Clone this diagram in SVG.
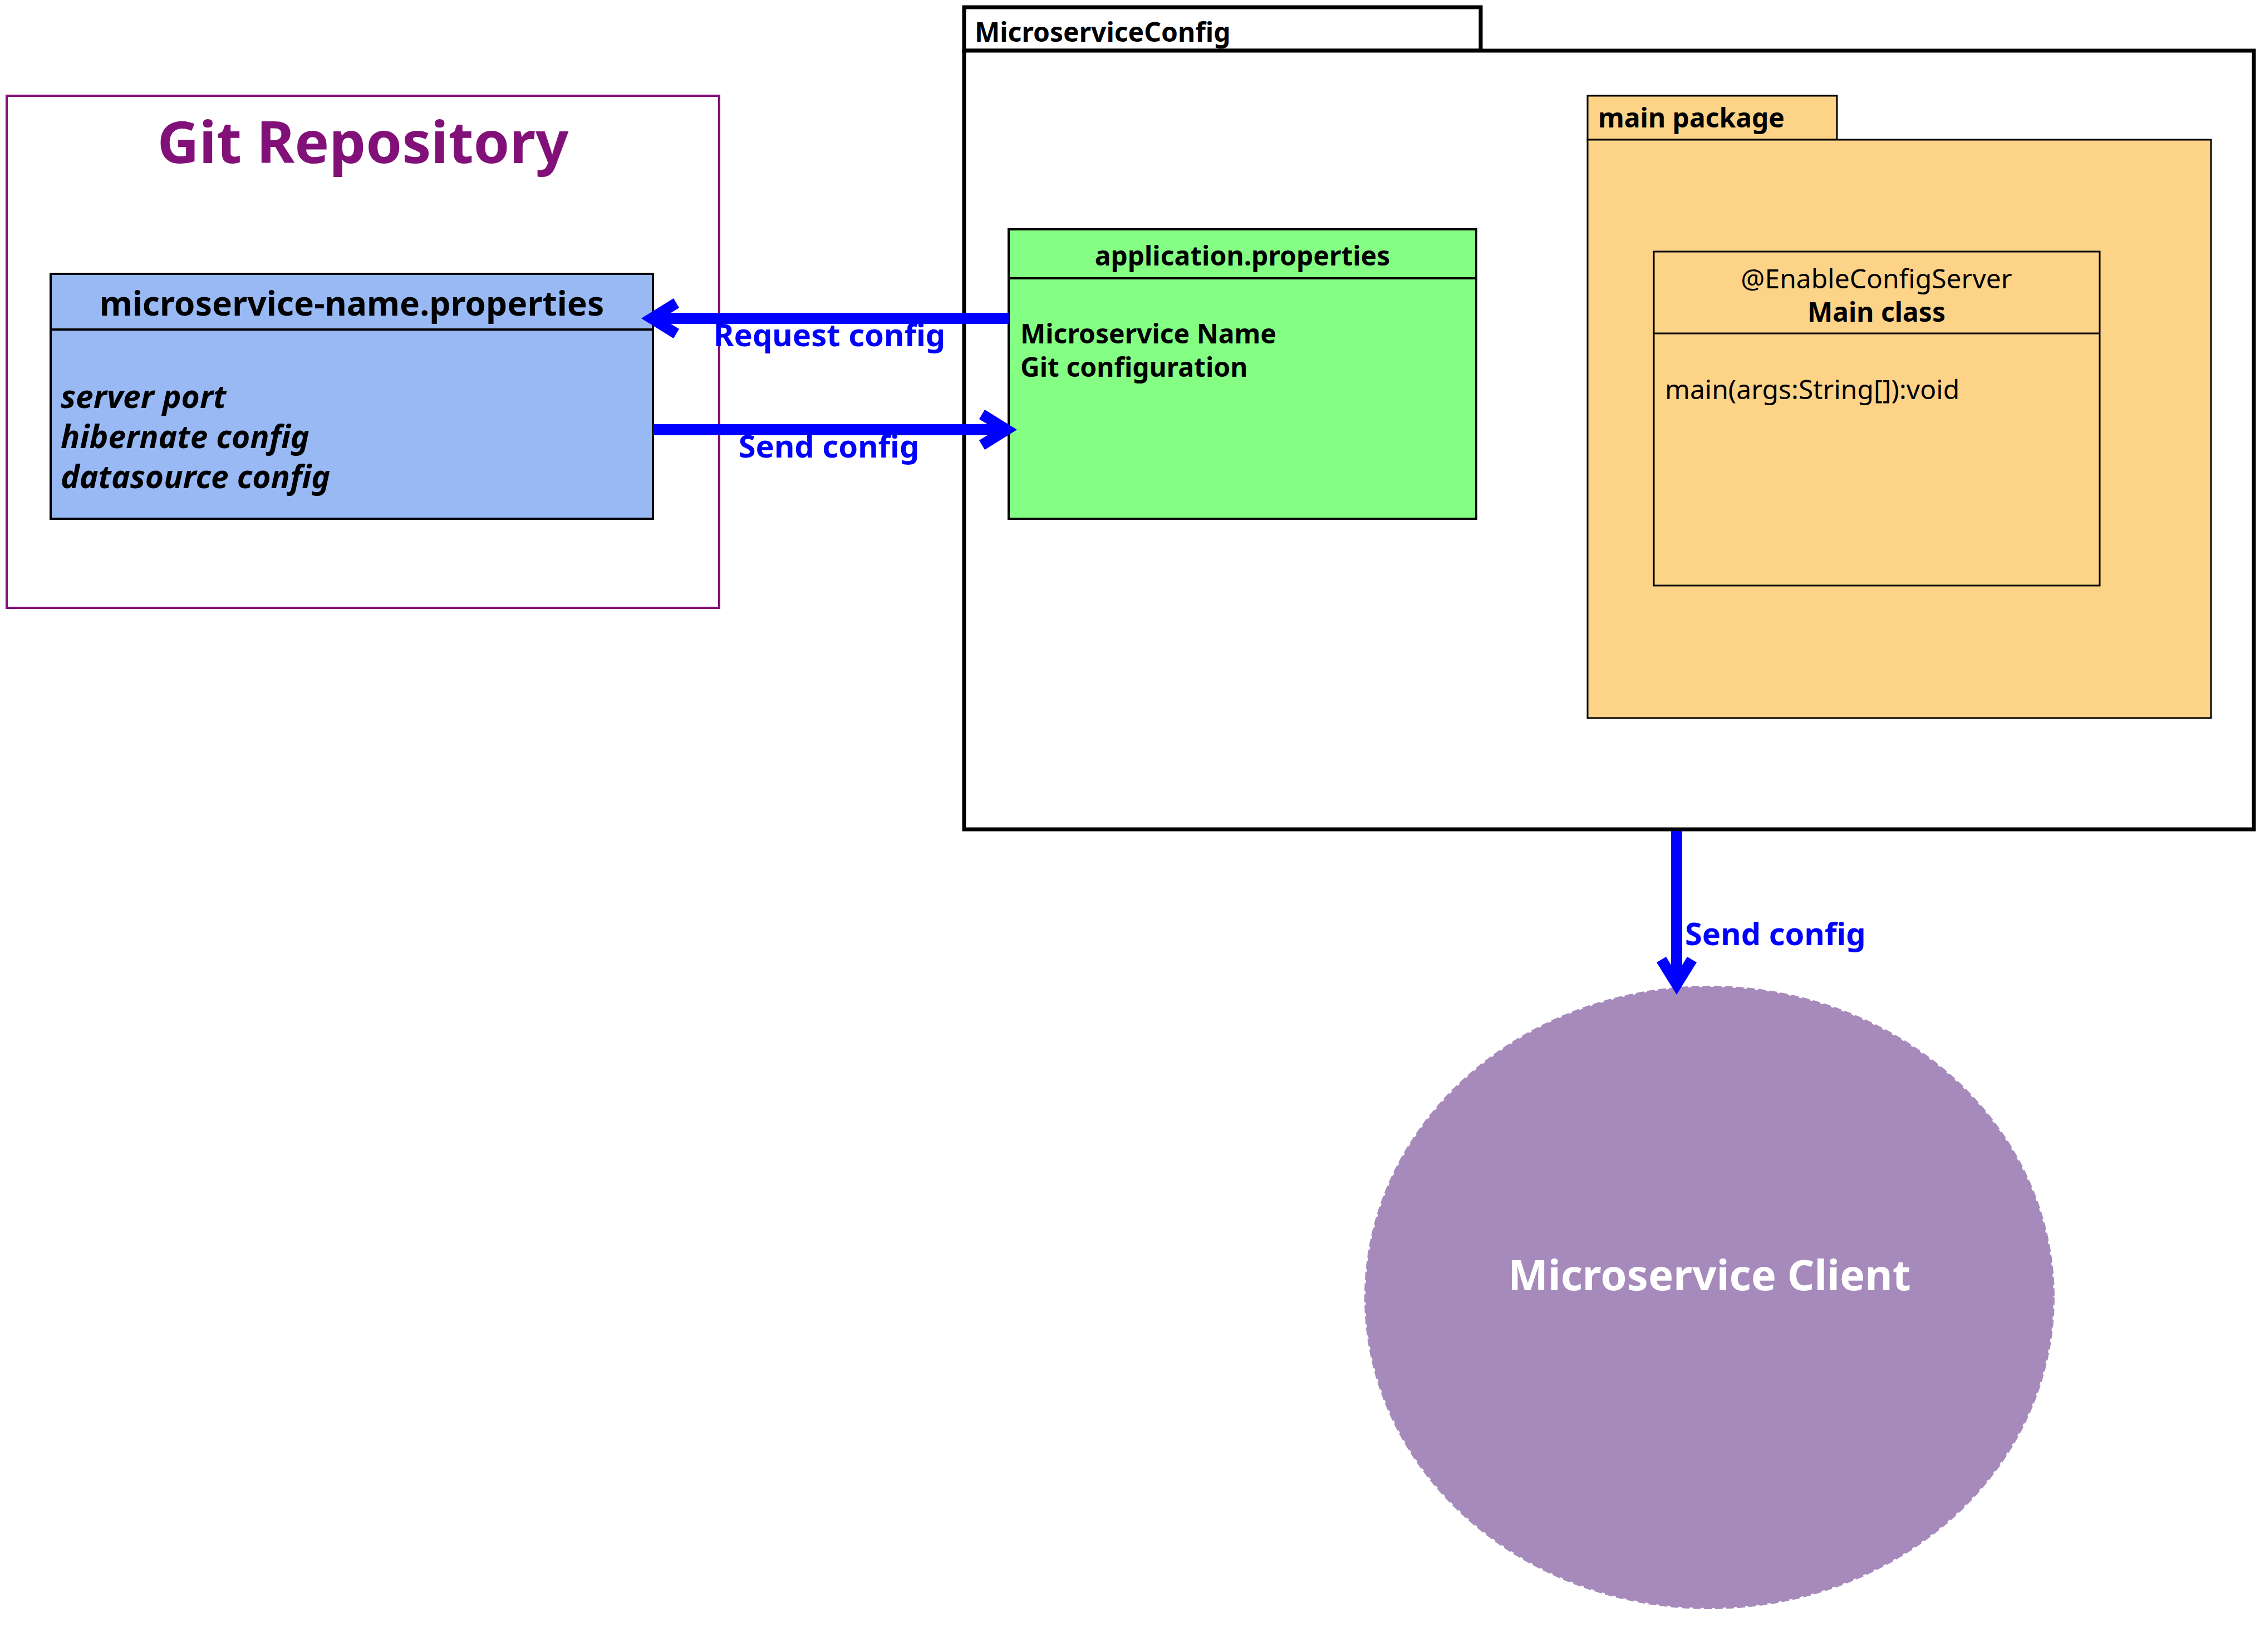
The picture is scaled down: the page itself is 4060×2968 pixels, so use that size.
<svg xmlns="http://www.w3.org/2000/svg" width="4060" height="2968" viewBox="0 0 4060 2968">
<style>
text{font-family:"Noto Sans","Open Sans","DejaVu Sans",sans-serif;}
.b{font-weight:bold;}
.cls{stroke:#000;stroke-width:4;}
.pkg{stroke:#000;stroke-width:3;}
.lbl{fill:#0000FF;font-weight:bold;font-size:56px;}
.mid{text-anchor:middle;}
.conn{stroke:#0000FF;stroke-width:20;fill:none;}
</style>
<defs>
<path id="chev" d="M0,0 L-58,-36 L-68,-19 L-37,0 L-68,19 L-58,36 Z" fill="#0000FF"/>
</defs>
<rect width="4060" height="2968" fill="#FFFFFF"/>

<g id="git-repository">
<rect x="12" y="172" width="1280" height="920" fill="#FFFFFF" stroke="#811178" stroke-width="4"/>
<text x="652" y="293" font-size="104" class="b mid" fill="#811178">Git Repository</text>
</g>

<g id="microservice-name-properties">
<rect x="91" y="492" width="1082" height="440" fill="#98B9F3" class="cls"/>
<line x1="91" y1="592" x2="1173" y2="592" class="cls"/>
<text x="632" y="567" font-size="60.5" class="b mid">microservice-name.properties</text>
<text x="109" y="733" font-size="57" class="b" font-style="italic">server port</text>
<text x="109" y="805" font-size="57" class="b" font-style="italic">hibernate config</text>
<text x="109" y="877" font-size="57" class="b" font-style="italic">datasource config</text>
</g>

<g id="microservice-config">
<rect x="1732" y="13" width="928" height="78" fill="#FFFFFF" stroke="#000" stroke-width="7"/>
<rect x="1732" y="91" width="2317" height="1399" fill="#FFFFFF" stroke="#000" stroke-width="7"/>
<text x="1751" y="75" font-size="48" class="b">MicroserviceConfig</text>
</g>

<g id="application-properties">
<rect x="1812" y="412" width="840" height="520" fill="#84FF84" class="cls"/>
<line x1="1812" y1="500" x2="2652" y2="500" class="cls"/>
<text x="2232" y="477" font-size="48" class="b mid">application.properties</text>
<text x="1833" y="617" font-size="48" class="b">Microservice Name</text>
<text x="1833" y="677" font-size="48" class="b">Git configuration</text>
</g>

<g id="main-package">
<rect x="2852" y="172" width="448" height="79" fill="#FDD388" class="pkg"/>
<rect x="2852" y="251" width="1120" height="1039" fill="#FDD388" class="pkg"/>
<text x="2871" y="229" font-size="48" class="b">main package</text>
</g>

<g id="main-class">
<rect x="2971" y="452" width="801" height="600" fill="#FDD388" class="pkg"/>
<line x1="2971" y1="599" x2="3772" y2="599" class="pkg"/>
<text x="3371" y="518" font-size="48" class="mid">@EnableConfigServer</text>
<text x="3371" y="578" font-size="48" class="b mid">Main class</text>
<text x="2991" y="717" font-size="48">main(args:String[]):void</text>
</g>

<g id="microservice-client">
<ellipse cx="3071" cy="2331" rx="618" ry="558" fill="#A68ABB" stroke="#A68ABB" stroke-width="4" stroke-dasharray="14 6"/>
<text x="3071" y="2318" font-size="76" class="b mid" fill="#FFFFFF">Microservice Client</text>
</g>

<g id="connectors">
<line x1="1812" y1="572" x2="1180" y2="572" class="conn"/>
<use href="#chev" transform="translate(1152,572) rotate(180)"/>
<text x="1490" y="622" class="lbl mid">Request config</text>
<line x1="1173" y1="772" x2="1800" y2="772" class="conn"/>
<use href="#chev" transform="translate(1827,772)"/>
<text x="1489" y="822" class="lbl mid">Send config</text>
<line x1="3012" y1="1493" x2="3012" y2="1760" class="conn"/>
<use href="#chev" transform="translate(3012,1787) rotate(90)"/>
<text x="3027" y="1698" class="lbl">Send config</text>
</g>
</svg>
